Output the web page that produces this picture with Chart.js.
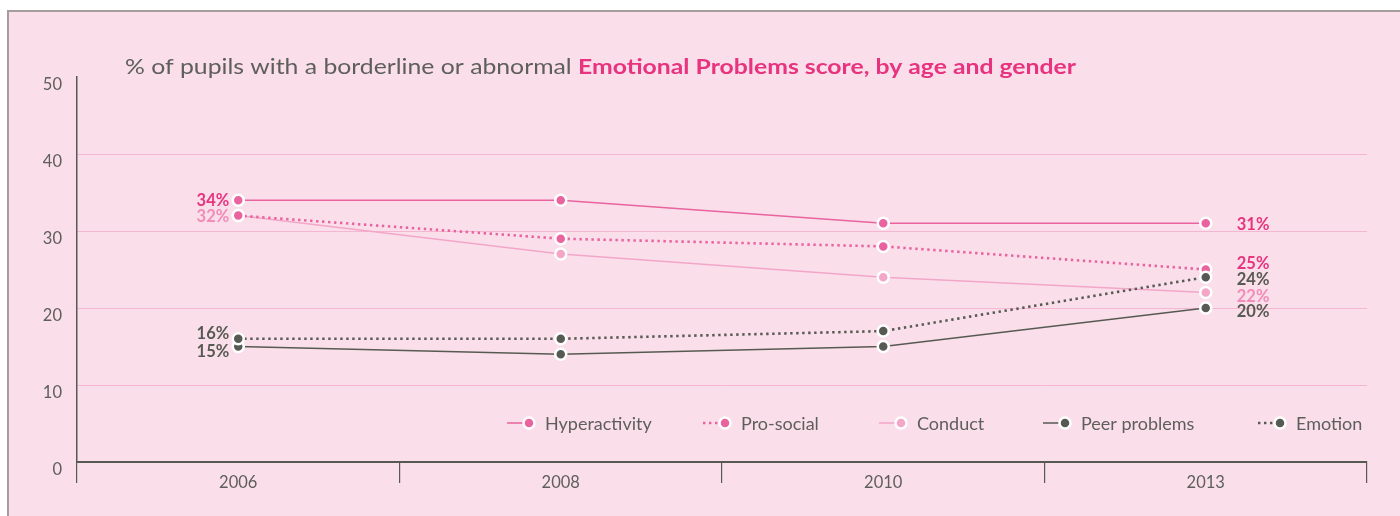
<!DOCTYPE html>
<html>
<head>
<meta charset="utf-8">
<script src="https://cdn.jsdelivr.net/npm/chart.js@4/dist/chart.umd.min.js"></script>
<style>
  html, body { margin: 0; padding: 0; background: #ffffff; }
  #wrap { width: 1400px; height: 516px; }
</style>
</head>
<body>
<div id="wrap"><canvas id="chart" width="1400" height="516"></canvas></div>
<script>
// Data
const years = ['2006', '2008', '2010', '2013'];
const hyperactivity = [34, 34, 31, 31];
const proSocial = [32, 29, 28, 25];
const conduct = [32, 27, 24, 22];
const peerProblems = [15, 14, 15, 20];
const emotion = [16, 16, 17, 24];
const yTicks = [0, 10, 20, 30, 40, 50];

const PINK = '#e9639e';
const LIGHT = '#f3a6c7';
const DARK = '#575a52';
const TEXT = '#5e5e5b';
const HOT = '#e8337f';
const BG = '#fadfeb';
const FONT = 'Lato, "Open Sans", sans-serif';

// label colours and small vertical nudges for the end labels (left / right)
const labelStyle = {
    'Hyperactivity': { color: HOT,   left: 0,  right: 1 },
    'Pro-social':    { color: HOT,   left: null, right: -6 },
    'Conduct':       { color: '#f28cb8', left: 1, right: 4 },
    'Peer problems': { color: DARK,  left: 5,  right: 4 },
    'Emotion':       { color: DARK,  left: -5, right: 2 }
};

function ds(label, data, color, dashed, order) {
    return {
        label: label,
        data: data,
        borderColor: color,
        backgroundColor: color,
        borderWidth: dashed ? 2.6 : 1.5,
        borderDash: dashed ? [2.4, 3.6] : [],
        borderCapStyle: 'butt',
        pointRadius: 5.5,
        pointBorderWidth: 2.5,
        pointBorderColor: '#ffffff',
        pointBackgroundColor: color,
        tension: 0,
        order: order
    };
}

const bgPlugin = {
    id: 'bg',
    beforeDraw(chart) {
        const c = chart.ctx;
        c.save();
        c.fillStyle = '#ffffff';
        c.fillRect(0, 0, chart.width, chart.height);
        c.fillStyle = BG;
        c.fillRect(8, 11, chart.width - 8, chart.height - 11);
        c.strokeStyle = '#a39d9d';
        c.lineWidth = 2;
        c.beginPath();
        c.moveTo(8, 516);
        c.lineTo(8, 11);
        c.lineTo(1400, 11);
        c.stroke();
        c.restore();
    }
};

const decoPlugin = {
    id: 'deco',
    afterDraw(chart) {
        const c = chart.ctx;
        c.save();
        // title, stretched to the width it has in the reference
        const t1 = '% of pupils with a borderline or abnormal ';
        const t2 = 'Emotional Problems score, by age and gender';
        c.font = '21px ' + FONT;
        const w1 = c.measureText(t1).width;
        c.font = 'bold 21px ' + FONT;
        const w2 = c.measureText(t2).width;
        const sx = 951 / (w1 + w2);
        c.save();
        c.translate(125, 67);
        c.scale(sx, 1);
        c.textBaseline = 'middle';
        c.textAlign = 'left';
        c.font = '21px ' + FONT;
        c.fillStyle = TEXT;
        c.fillText(t1, 0, 0);
        c.font = 'bold 21px ' + FONT;
        c.fillStyle = HOT;
        c.fillText(t2, w1, 0);
        c.restore();

        // end labels
        const last = years.length - 1;
        c.textBaseline = 'middle';
        c.font = 'bold 16.5px ' + FONT;
        chart.data.datasets.forEach((d, i) => {
            const meta = chart.getDatasetMeta(i);
            const st = labelStyle[d.label];
            c.fillStyle = st.color;
            if (st.left !== null) {
                const p = meta.data[0];
                c.textAlign = 'right';
                c.fillText(d.data[0] + '%', p.x - 9, p.y + st.left);
            }
            const q = meta.data[last];
            c.textAlign = 'left';
            c.fillText(d.data[last] + '%', q.x + 31, q.y + st.right);
        });

        // legend
        const items = [
            { ds: 0, x: 507 }, { ds: 1, x: 703 }, { ds: 2, x: 879 },
            { ds: 3, x: 1043 }, { ds: 4, x: 1258 }
        ];
        const ly = 423;
        c.font = '18px ' + FONT;
        c.textAlign = 'left';
        items.forEach(it => {
            const d = chart.data.datasets[it.ds];
            c.strokeStyle = d.borderColor;
            c.lineWidth = d.borderDash.length ? 2.4 : 1.5;
            c.setLineDash(d.borderDash);
            c.beginPath();
            c.moveTo(it.x, ly);
            c.lineTo(it.x + 20, ly);
            c.stroke();
            c.setLineDash([]);
            c.beginPath();
            c.arc(it.x + 22, ly, 5.5, 0, Math.PI * 2);
            c.fillStyle = d.pointBackgroundColor;
            c.fill();
            c.lineWidth = 2.5;
            c.strokeStyle = '#ffffff';
            c.stroke();
            c.fillStyle = TEXT;
            c.fillText(d.label, it.x + 38, ly + 1);
        });
        c.restore();
    }
};

const ctx = document.getElementById('chart').getContext('2d');
new Chart(ctx, {
    type: 'line',
    data: {
        labels: years,
        datasets: [
            ds('Hyperactivity', hyperactivity, PINK, false, 1),
            ds('Pro-social', proSocial, PINK, true, 1),
            ds('Conduct', conduct, LIGHT, false, 1),
            ds('Peer problems', peerProblems, DARK, false, 1),
            ds('Emotion', emotion, DARK, true, 0)
        ]
    },
    options: {
        responsive: false,
        animation: false,
        devicePixelRatio: 1,
        layout: { padding: { top: 77, right: 33, left: 0, bottom: 0 } },
        plugins: {
            legend: { display: false },
            tooltip: { enabled: false },
            title: { display: false }
        },
        scales: {
            x: {
                offset: true,
                grid: {
                    offset: true,
                    drawOnChartArea: false,
                    drawTicks: true,
                    tickLength: 21,
                    color: DARK,
                    lineWidth: 1.2
                },
                border: { display: true, color: DARK, width: 2 },
                ticks: {
                    color: TEXT,
                    font: { family: FONT, size: 16.5 },
                    padding: -10
                },
                afterFit(scale) { scale.height = 54; }
            },
            y: {
                min: 0,
                max: 50,
                afterBuildTicks(scale) {
                    scale.ticks = yTicks.map(v => ({ value: v }));
                },
                grid: {
                    drawTicks: false,
                    color: ctx => (ctx.tick && ctx.tick.value > 0 && ctx.tick.value < 50) ? '#f4b6d0' : 'rgba(0,0,0,0)',
                    lineWidth: 1
                },
                border: { display: true, color: DARK, width: 1.5 },
                ticks: {
                    color: TEXT,
                    font: { family: FONT, size: 16.5 },
                    padding: 15,
                    labelOffset: 8
                },
                afterFit(scale) { scale.width = 77; }
            }
        }
    },
    plugins: [bgPlugin, decoPlugin]
});
</script>
</body>
</html>
